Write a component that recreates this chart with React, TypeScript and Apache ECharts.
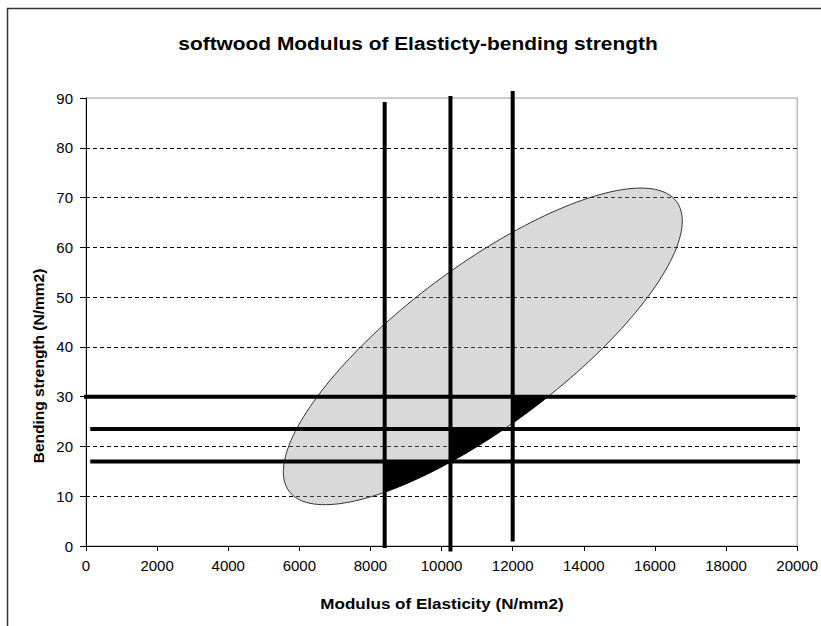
import React, { useEffect, useRef } from "react";
import * as echarts from "echarts";

const TITLE = "softwood Modulus of Elasticty-bending strength";
const X_NAME = "Modulus of Elasticity (N/mm2)";
const Y_NAME = "Bending strength (N/mm2)";

const X_MIN = 0;
const X_MAX = 20000;
const X_STEP = 2000;
const Y_MIN = 0;
const Y_MAX = 90;
const Y_STEP = 10;

// vertical thick lines (modulus of elasticity thresholds)
const MOE_X = [8400, 10250, 12000];
const MOE_BOTTOM = [-0.4, -1.1, 0.9];
const MOE_TOP = [89.2, 90.4, 91.4];

// horizontal thick lines (bending strength thresholds)
const MOR_Y = [17, 23.5, 30];
const MOR_START = [120, 120, -60];
const MOR_END = [20150, 20150, 19950];

// data cloud ellipse: centre and two conjugate half-diameters (data units)
const ELLIPSE_CENTER = [11160, 40.1];
const ELLIPSE_U = [5610, 25.2];
const ELLIPSE_V = [0, 19.4];
const ELLIPSE_SAMPLES = 180;

const FONT = "'Liberation Sans', Arial, sans-serif";

function ellipsePoints(): number[][] {
  const pts: number[][] = [];
  for (let i = 0; i < ELLIPSE_SAMPLES; i++) {
    const t = (i / ELLIPSE_SAMPLES) * Math.PI * 2;
    pts.push([
      ELLIPSE_CENTER[0] + ELLIPSE_U[0] * Math.cos(t) + ELLIPSE_V[0] * Math.sin(t),
      ELLIPSE_CENTER[1] + ELLIPSE_U[1] * Math.cos(t) + ELLIPSE_V[1] * Math.sin(t),
    ]);
  }
  return pts;
}

// Sutherland-Hodgman clip against half plane
function clip(poly: number[][], inside: (p: number[]) => boolean, cross: (a: number[], b: number[]) => number[]) {
  const out: number[][] = [];
  for (let i = 0; i < poly.length; i++) {
    const cur = poly[i];
    const prev = poly[(i + poly.length - 1) % poly.length];
    const ci = inside(cur);
    const pi = inside(prev);
    if (ci) {
      if (!pi) out.push(cross(prev, cur));
      out.push(cur);
    } else if (pi) {
      out.push(cross(prev, cur));
    }
  }
  return out;
}

function region(poly: number[][], x0: number, y0: number) {
  let r = clip(
    poly,
    (p) => p[0] >= x0,
    (a, b) => {
      const t = (x0 - a[0]) / (b[0] - a[0]);
      return [x0, a[1] + t * (b[1] - a[1])];
    }
  );
  r = clip(
    r,
    (p) => p[1] <= y0,
    (a, b) => {
      const t = (y0 - a[1]) / (b[1] - a[1]);
      return [a[0] + t * (b[0] - a[0]), y0];
    }
  );
  return r;
}

export default function App() {
  const ref = useRef<HTMLDivElement>(null);
  useEffect(() => {
    if (!ref.current) return;
    const chart = echarts.init(ref.current, null, { renderer: "svg" });
    const ell = ellipsePoints();
    const regions = MOE_X.map((x, i) => region(ell, x, MOR_Y[i]));

    const series: any[] = [
      {
        type: "custom",
        z: 2,
        clip: false,
        silent: true,
        data: [[X_MIN, Y_MIN]],
        renderItem: (_params: any, api: any) => {
          const toPx = (p: number[]) => api.coord(p);
          const children: any[] = [
            {
              type: "polygon",
              shape: { points: ell.map(toPx) },
              style: { fill: "rgba(150,150,150,0.36)", stroke: "#333", lineWidth: 1 },
            },
          ];
          regions.forEach((r) => {
            if (r.length > 2) {
              children.push({
                type: "polygon",
                shape: { points: r.map(toPx) },
                style: { fill: "#000", stroke: "#000", lineWidth: 0.5 },
              });
            }
          });
          return { type: "group", children };
        },
      },
    ];
    MOE_X.forEach((x, i) => {
      series.push({
        type: "line",
        z: 5,
        clip: false,
        silent: true,
        symbol: "none",
        data: [
          [x, MOE_BOTTOM[i]],
          [x, MOE_TOP[i]],
        ],
        lineStyle: { color: "#000", width: 4 },
      });
    });
    MOR_Y.forEach((y, i) => {
      series.push({
        type: "line",
        z: 5,
        clip: false,
        silent: true,
        symbol: "none",
        data: [
          [MOR_START[i], y],
          [MOR_END[i], y],
        ],
        lineStyle: { color: "#000", width: 4 },
      });
    });

    chart.setOption({
      animation: false,
      backgroundColor: "#fff",
      textStyle: { fontFamily: FONT },
      grid: {
        left: 86,
        right: 23,
        top: 98,
        bottom: 80,
        show: true,
        borderColor: "#999",
        borderWidth: 1,
        backgroundColor: "transparent",
      },
      xAxis: {
        type: "value",
        min: X_MIN,
        max: X_MAX,
        interval: X_STEP,
        axisLine: { show: true, lineStyle: { color: "#000", width: 1 } },
        axisTick: { show: true, length: 5, lineStyle: { color: "#000" } },
        axisLabel: {
          color: "#000",
          fontSize: 15,
          margin: 12,
          fontFamily: FONT,
          formatter: (v: number) => String(v),
        },
        splitLine: { show: false },
      },
      yAxis: {
        type: "value",
        min: Y_MIN,
        max: Y_MAX,
        interval: Y_STEP,
        axisLine: { show: true, lineStyle: { color: "#000", width: 1 } },
        axisTick: { show: true, length: 6, lineStyle: { color: "#000" } },
        axisLabel: {
          color: "#000",
          fontSize: 15,
          margin: 13,
          fontFamily: FONT,
          formatter: (v: number) => String(v),
        },
        splitLine: {
          show: true,
          showMinLine: false,
          showMaxLine: false,
          lineStyle: { color: "#000", width: 1, type: [4, 3] },
        },
      },
      graphic: [
        {
          type: "polyline",
          shape: { points: [[7.5, 626], [7.5, 8.5], [821, 8.5]] },
          style: { stroke: "#333", lineWidth: 1.5, fill: "none" },
          silent: true,
        },
        {
          type: "text",
          x: 418,
          y: 43,
          scaleX: 1.1,
          style: {
            text: TITLE,
            font: `bold 19px ${FONT}`,
            fill: "#000",
            align: "center",
            verticalAlign: "middle",
          },
        },
        {
          type: "text",
          x: 442,
          y: 603,
          scaleX: 1.1,
          style: {
            text: X_NAME,
            font: `bold 15.5px ${FONT}`,
            fill: "#000",
            align: "center",
            verticalAlign: "middle",
          },
        },
        {
          type: "text",
          x: 38,
          y: 366,
          rotation: Math.PI / 2,
          style: {
            text: Y_NAME,
            font: `bold 15.5px ${FONT}`,
            fill: "#000",
            align: "center",
            verticalAlign: "middle",
          },
        },
      ],
      series,
    });
    return () => chart.dispose();
  }, []);
  return (
    <div
      ref={ref}
      style={{ position: "fixed", left: 0, top: 0, width: 821, height: 626 }}
    />
  );
}
